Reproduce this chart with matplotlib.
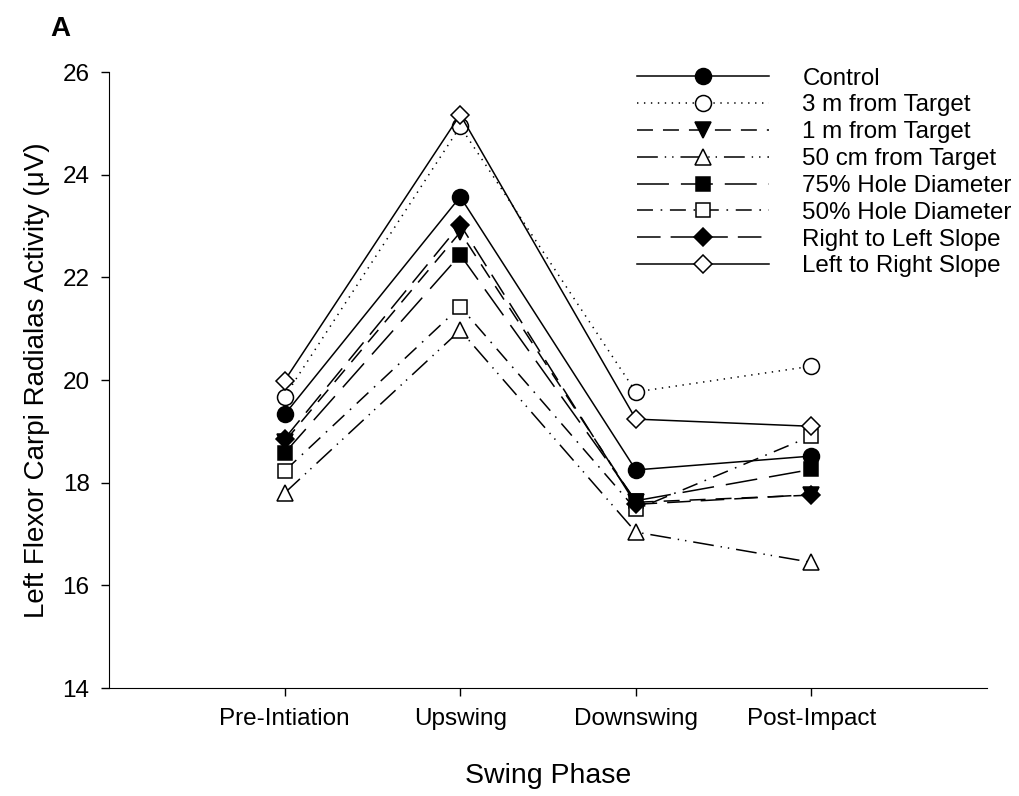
import numpy as np
import matplotlib
matplotlib.use('Agg')
import matplotlib.pyplot as plt

plt.rcParams['font.family'] = ['Liberation Sans', 'DejaVu Sans']
plt.rcParams['lines.scale_dashes'] = False

# swing phases on the x axis
phases = ['Pre-Intiation', 'Upswing', 'Downswing', 'Post-Impact']

# mean activity per condition (uV)
control = [19.33, 23.57, 18.25, 18.52]
m3_target = [19.68, 24.94, 19.77, 20.27]
m1_target = [18.80, 22.88, 17.62, 17.76]
cm50_target = [17.80, 20.97, 17.04, 16.45]
hole75 = [18.58, 22.44, 17.65, 18.26]
hole50 = [18.23, 21.43, 17.48, 18.91]
slope_rl = [18.86, 23.03, 17.58, 17.77]
slope_lr = [19.99, 25.17, 19.24, 19.10]

labels = ['Control', '3 m from Target', '1 m from Target', '50 cm from Target',
          '75% Hole Diameter', '50% Hole Diameter', 'Right to Left Slope',
          'Left to Right Slope']
series = [control, m3_target, m1_target, cm50_target, hole75, hole50, slope_rl, slope_lr]

#marker, filled, dash pattern (points)
styles = [
    ('o', True, '-'),
    ('o', False, (0, (1.0, 4.0))),
    ('v', True, (0, (11.5, 7.2))),
    ('^', False, (0, (15, 5, 1, 4.3, 1, 5))),
    ('s', True, (0, (23, 8.6))),
    ('s', False, (0, (11.5, 5.5, 1.2, 5.5))),
    ('D', True, (0, (17, 7.2))),
    ('D', False, '-'),
]
msizes = {'o': 11.5, 'v': 11.5, '^': 11.5, 's': 10.5, 'D': 9.5}

fig = plt.figure(figsize=(10.19, 7.96), dpi=100)
ax = fig.add_axes([0.107, 0.1355, 0.8616, 0.774])

x = np.arange(1, len(phases) + 1)
for vals, lab, (mk, filled, ls) in zip(series, labels, styles):
    ax.plot(x, vals, linestyle=ls, color='black', lw=1.1, marker=mk,
            markersize=msizes[mk], markerfacecolor='black' if filled else 'white',
            markeredgecolor='black', markeredgewidth=1.1, label=lab)

ax.set_xlim(0, 5)
ax.set_ylim(14, 26)
ax.set_yticks(np.arange(14, 27, 2))
ax.set_xticks(x)
ax.set_xticklabels(phases)
ax.spines['top'].set_visible(False)
ax.spines['right'].set_visible(False)
ax.tick_params(axis='both', direction='out', length=6, width=1, labelsize=17.5, pad=8)

ax.set_xlabel('Swing Phase', fontsize=20.5, labelpad=24)
ax.set_ylabel('Left Flexor Carpi Radialas Activity (\u03bcV)', fontsize=20, labelpad=9)

leg = ax.legend(loc='upper left', bbox_to_anchor=(0.625, 0.915),
                bbox_transform=fig.transFigure, frameon=False, fontsize=17.4,
                handlelength=5.45, handletextpad=1.4, labelspacing=0.2,
                borderpad=0, borderaxespad=0, numpoints=1)

fig.text(0.049, 0.964, 'A', fontsize=20, fontweight='bold', ha='left', va='center')

fig.savefig('out.png', dpi=100)
